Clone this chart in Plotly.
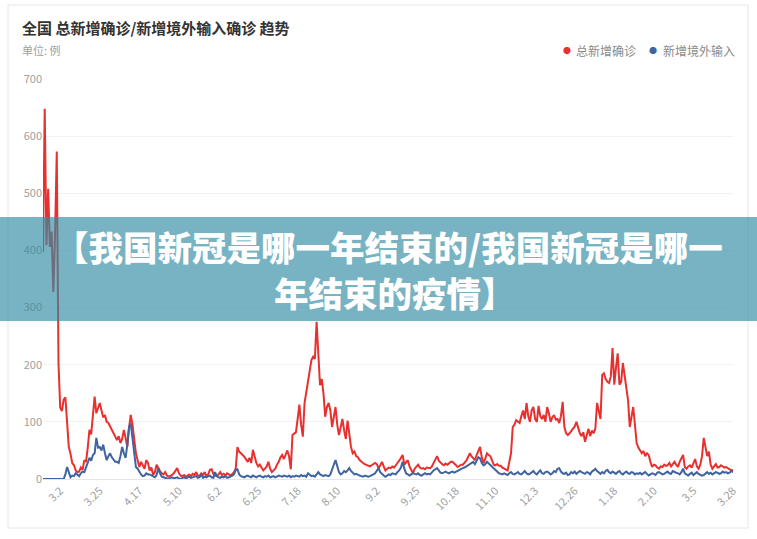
import pandas as pd
import plotly.graph_objects as go

# ---------------- data ----------------
start_date = "2020-02-21"

total_new = (
    [397, 648, 409, 508, 406, 433, 327, 427, 573]  # Feb 2020
    + [202, 125, 119, 139, 143, 99, 56, 44, 28, 24, 15, 12, 13, 20, 16, 33, 30, 55, 86, 78,
       115, 144, 115, 125, 133, 120, 108, 112, 100, 98, 92]  # Mar
    + [86, 80, 72, 68, 75, 63, 70, 86, 72, 56, 90, 112, 95, 68, 45, 33, 21, 30, 25, 18,
       33, 28, 15, 20, 7, 12, 25, 19, 14, 10]  # Apr
    + [8, 12, 6, 4, 5, 7, 10, 14, 19, 10, 6, 5, 7, 4, 6, 8, 5, 9, 7, 12,
       6, 5, 10, 7, 12, 5, 8, 16, 17, 9, 6]  # May
    + [5, 8, 12, 7, 9, 6, 10, 8, 6, 9, 12, 18, 56, 48, 44, 42, 39, 35, 30, 37,
       28, 51, 40, 28, 22, 25, 20, 15, 18, 22]  # Jun
    + [30, 18, 12, 15, 18, 25, 30, 38, 42, 35, 44, 50, 40, 17, 77, 80, 82, 105, 130, 95,
       74, 133, 150, 173, 190, 208, 214, 210, 275, 220, 164]  # Jul
    + [175, 150, 109, 126, 133, 120, 91, 110, 126, 95, 77, 90, 105, 85, 70, 102, 75, 56, 45, 48,
       40, 38, 33, 30, 28, 26, 25, 24, 22, 24, 26]  # Aug
    + [28, 26, 19, 24, 30, 22, 15, 18, 20, 19, 22, 20, 25, 28, 32, 36, 42, 25, 30, 33,
       22, 15, 10, 18, 22, 25, 20, 18, 19, 17]  # Sep
    + [20, 19, 19, 22, 28, 35, 40, 32, 28, 26, 24, 27, 25, 28, 30, 30, 26, 24, 21, 23,
       25, 25, 28, 32, 38, 45, 40, 37, 33, 42, 50]  # Oct
    + [56, 38, 28, 35, 45, 42, 40, 32, 25, 24, 26, 23, 23, 20, 18, 17, 15, 30, 45, 91,
       95, 103, 100, 98, 110, 120, 105, 133, 110, 100]  # Nov
    + [120, 126, 105, 100, 128, 110, 105, 112, 100, 126, 115, 100, 108, 112, 104, 105, 98, 110, 135, 91,
       80, 77, 80, 84, 88, 92, 100, 90, 80, 75, 82]  # Dec
    + [65, 78, 88, 75, 85, 80, 88, 133, 120, 105, 182, 185, 175, 170, 168, 180, 229, 165, 195, 220,
       165, 170, 203, 180, 160, 138, 91, 110, 126, 95, 63]  # Jan 2021
    + [55, 51, 45, 49, 40, 45, 42, 30, 21, 25, 24, 20, 18, 22, 21, 25, 23, 24, 28, 22,
       26, 30, 25, 21, 30, 36, 42, 21]  # Feb 2021
    + [18, 22, 24, 20, 28, 35, 22, 18, 25, 40, 72, 55, 40, 48, 25, 18, 22, 26, 20, 21,
       24, 22, 20, 21, 19, 16, 15, 16]  # Mar 2021
)

imported_new = (
    [0, 0, 0, 0, 0, 0, 0, 0, 0]  # Feb 2020
    + [0, 0, 0, 0, 8, 21, 12, 3, 6, 5, 10, 8, 5, 10, 13, 12, 21, 28, 37, 32,
       42, 45, 72, 55, 56, 50, 60, 45, 33, 40, 45]  # Mar
    + [38, 33, 30, 30, 28, 40, 56, 45, 37, 60, 91, 97, 68, 40, 21, 18, 12, 8, 5, 6,
       10, 8, 8, 6, 5, 3, 7, 19, 10, 4]  # Apr
    + [3, 2, 1, 0, 2, 3, 1, 2, 3, 1, 0, 2, 3, 1, 2, 4, 2, 3, 3, 5,
       2, 3, 8, 2, 4, 3, 5, 6, 3, 2, 12]  # May
    + [5, 3, 2, 4, 3, 5, 2, 3, 4, 6, 8, 16, 17, 8, 5, 4, 3, 5, 6, 4,
       3, 6, 4, 3, 5, 6, 4, 3, 5, 4]  # Jun
    + [6, 3, 4, 5, 3, 4, 6, 5, 4, 6, 5, 4, 6, 3, 5, 4, 6, 5, 4, 7,
       5, 6, 4, 10, 7, 5, 6, 4, 8, 12, 8]  # Jul
    + [6, 5, 7, 6, 5, 8, 15, 25, 33, 22, 12, 8, 10, 14, 12, 15, 19, 14, 10, 8,
       9, 7, 6, 5, 4, 6, 5, 4, 5, 6, 8]  # Aug
    + [10, 14, 19, 12, 8, 6, 4, 6, 8, 7, 10, 9, 8, 12, 15, 20, 30, 18, 10, 8,
       6, 8, 10, 9, 8, 10, 7, 6, 8, 10]  # Sep
    + [8, 9, 8, 12, 15, 17, 19, 15, 11, 10, 12, 13, 11, 10, 12, 13, 11, 12, 14, 16,
       18, 19, 20, 22, 24, 25, 28, 30, 26, 32, 38]  # Oct
    + [36, 28, 24, 26, 30, 27, 25, 22, 18, 15, 12, 10, 9, 8, 10, 9, 7, 10, 12, 9,
       8, 10, 12, 9, 8, 11, 14, 10, 8, 9]  # Nov
    + [11, 14, 10, 8, 12, 15, 10, 9, 12, 13, 11, 8, 10, 14, 12, 18, 19, 13, 10, 9,
       11, 7, 8, 12, 10, 13, 9, 11, 14, 12, 10]  # Dec
    + [9, 12, 11, 8, 13, 15, 18, 14, 11, 9, 12, 10, 14, 16, 12, 10, 13, 11, 9, 12,
       14, 10, 8, 11, 13, 10, 9, 12, 11, 8, 10]  # Jan 2021
    + [9, 11, 8, 10, 12, 9, 6, 8, 10, 9, 7, 11, 12, 10, 8, 9, 11, 13, 10, 9,
       14, 12, 11, 10, 8, 12, 18, 10]  # Feb 2021
    + [8, 6, 9, 11, 7, 10, 12, 9, 8, 6, 7, 10, 12, 9, 11, 8, 10, 12, 11, 9,
       10, 13, 11, 12, 10, 11, 14, 12]  # Mar 2021
)

tick_dates = ["2020-03-02", "2020-03-25", "2020-04-17", "2020-05-10", "2020-06-02",
              "2020-06-25", "2020-07-18", "2020-08-10", "2020-09-02", "2020-09-25",
              "2020-10-18", "2020-11-10", "2020-12-03", "2020-12-26", "2021-01-18",
              "2021-02-10", "2021-03-05", "2021-03-28"]
tick_labels = ["3.2", "3.25", "4.17", "5.10", "6.2", "6.25", "7.18", "8.10", "9.2", "9.25",
               "10.18", "11.10", "12.3", "12.26", "1.18", "2.10", "3.5", "3.28"]

series_names = ["总新增确诊", "新增境外输入"]
title_text = "全国 总新增确诊/新增境外输入确诊 趋势"
unit_text = "单位: 例"
banner_line1 = "【我国新冠是哪一年结束的/我国新冠是哪一"
banner_line2 = "年结束的疫情】"

# ---------------- figure ----------------
n = min(len(total_new), len(imported_new))
dates = pd.date_range(start_date, periods=n, freq="D")

RED = "#e8302f"
BLUE = "#3f64a0"
FONT = "Noto Sans CJK SC"

W, H = 757, 539
L, R, T, B = 43, 24, 79, 60
PW, PH = W - L - R, H - T - B


def px(x):
    return (x - L) / PW


def py(y):
    return (H - B - y) / PH


fig = go.Figure()
fig.add_trace(go.Scatter(x=dates, y=total_new[:n], mode="lines", name=series_names[0],
                         line=dict(color=RED, width=2), showlegend=False))
fig.add_trace(go.Scatter(x=dates, y=imported_new[:n], mode="lines", name=series_names[1],
                         line=dict(color=BLUE, width=2), showlegend=False))

fig.update_layout(
    width=W, height=H,
    margin=dict(l=L, r=R, t=T, b=B),
    paper_bgcolor="white", plot_bgcolor="white",
    font=dict(family=FONT, color="#999999", size=11),
    xaxis=dict(
        range=[dates[0], dates[n - 1]],
        tickmode="array", tickvals=tick_dates, ticktext=tick_labels,
        tickangle=-45, showgrid=False, zeroline=False,
        showline=True, linecolor="#e6e6e6", linewidth=1,
        ticks="", tickfont=dict(size=11, color="#a0a0a0"),
    ),
    yaxis=dict(
        range=[0, 700], dtick=100, showgrid=True, gridcolor="#f2f2f2",
        zeroline=False, showline=False, ticks="",
        tickfont=dict(size=11, color="#a0a0a0"),
    ),
    shapes=[
        dict(type="rect", xref="paper", yref="paper",
             x0=px(8), x1=px(748), y0=py(528), y1=py(5),
             line=dict(color="#e6e6e6", width=1), fillcolor="rgba(0,0,0,0)", layer="below"),
        dict(type="rect", xref="paper", yref="paper",
             x0=px(0), x1=px(757), y0=py(321), y1=py(217),
             line=dict(width=0), fillcolor="rgba(48,140,162,0.66)", layer="above"),
    ],
    annotations=[
        dict(text=title_text, xref="paper", yref="paper", x=px(20), y=py(27),
             xanchor="left", yanchor="middle", showarrow=False,
             font=dict(size=15, color="#333333", family=FONT, weight="bold")),
        dict(text=unit_text, xref="paper", yref="paper", x=px(20), y=py(50),
             xanchor="left", yanchor="middle", showarrow=False,
             font=dict(size=11, color="#a0a0a0", family=FONT)),
        dict(text="●", xref="paper", yref="paper", x=px(567), y=py(51),
             xanchor="center", yanchor="middle", showarrow=False,
             font=dict(size=8, color=RED, family=FONT)),
        dict(text=series_names[0], xref="paper", yref="paper", x=px(574), y=py(50),
             xanchor="left", yanchor="middle", showarrow=False,
             font=dict(size=12, color="#8a8a8a", family=FONT)),
        dict(text="●", xref="paper", yref="paper", x=px(653), y=py(51),
             xanchor="center", yanchor="middle", showarrow=False,
             font=dict(size=8, color=BLUE, family=FONT)),
        dict(text=series_names[1], xref="paper", yref="paper", x=px(661), y=py(50),
             xanchor="left", yanchor="middle", showarrow=False,
             font=dict(size=12, color="#8a8a8a", family=FONT)),
        dict(text=banner_line1, xref="paper", yref="paper", x=px(388), y=py(246),
             xanchor="center", yanchor="middle", showarrow=False,
             font=dict(size=34.5, color="white", family=FONT, weight=900)),
        dict(text=banner_line2, xref="paper", yref="paper", x=px(395), y=py(292),
             xanchor="center", yanchor="middle", showarrow=False,
             font=dict(size=34.5, color="white", family=FONT, weight=900)),
    ],
)

fig.write_html("out.html", config={"displayModeBar": False},
               post_script="document.body.style.margin='0';")
